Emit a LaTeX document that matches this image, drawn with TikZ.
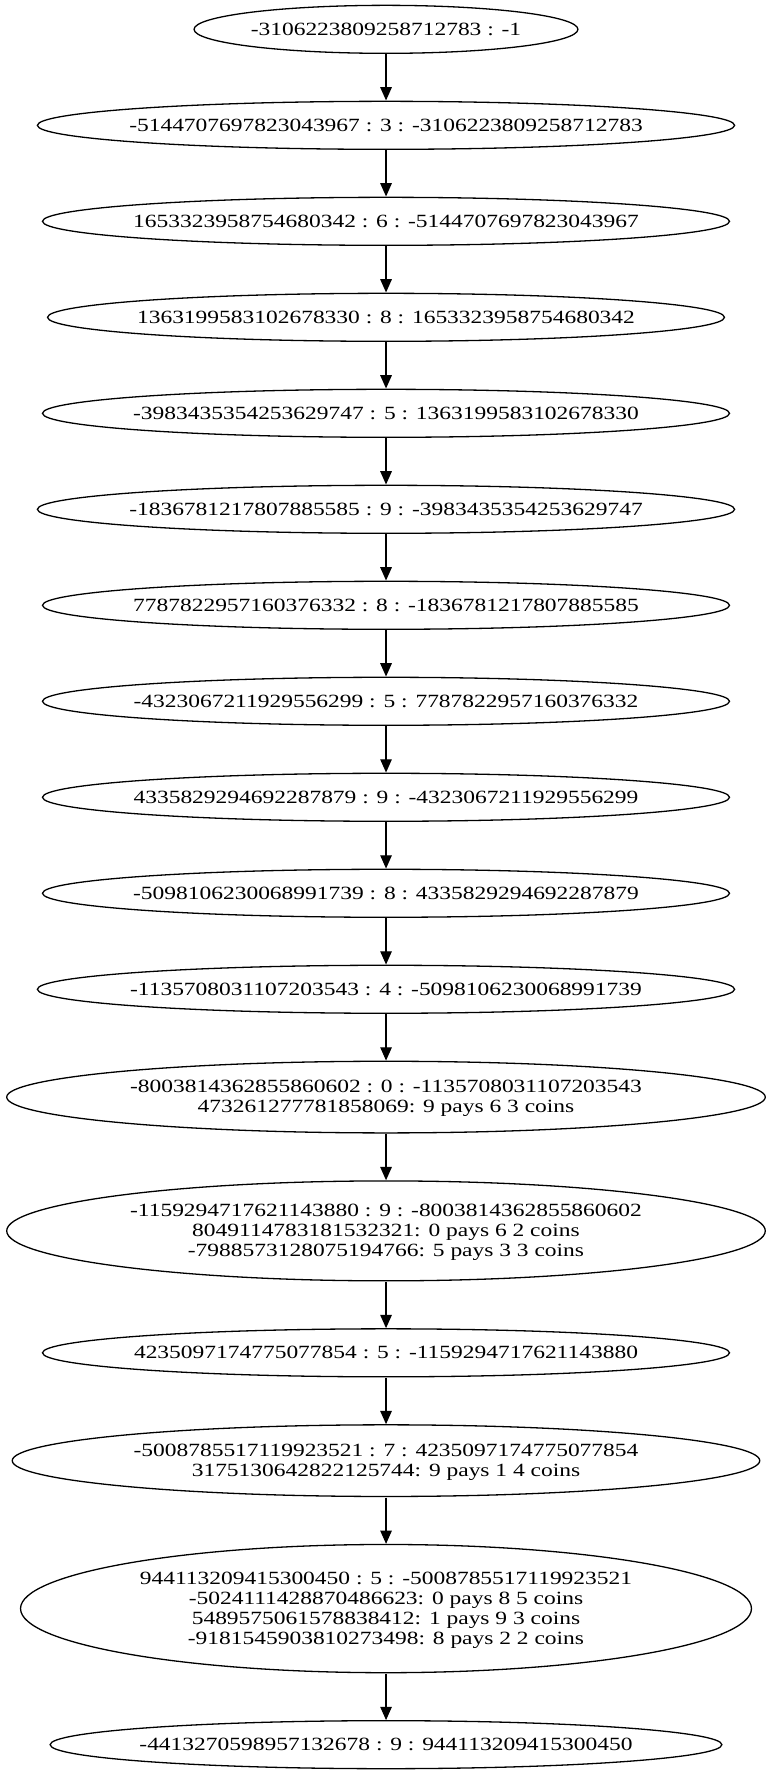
\documentclass[tikz,border=0pt]{standalone}
\usepackage{fontspec}
\setmainfont{Liberation Serif}
\usetikzlibrary{arrows.meta,shapes.geometric}
\newcommand\gvstrut{\vrule width 0pt height 11.8pt depth 3.2pt}
\newcommand\gvl[1]{{\renewcommand\arraystretch{0}\begin{tabular}{@{}c@{}}#1\end{tabular}}}
\tikzset{
  gvnode/.style={draw, ellipse, line width=1.3pt, inner xsep=-80pt, inner ysep=-20pt,
    font=\fontsize{14}{15}\selectfont},
  one/.style={gvnode, minimum height=36pt},
  arr/.style={line width=1.3pt, -{Triangle[length=13.3pt,width=11.5pt]}}
}
\begin{document}
\begin{tikzpicture}[x=1pt, y=1pt, xscale=1.67571, yscale=1.33323, transform shape]
\useasboundingbox (0,0) rectangle (460.7,-1330.6);
\def\cx{230.35}
\node[one, minimum width=229.1pt] (n1) at (\cx,-22) {\gvl{\gvstrut -3106223809258712783 : -1}};
\node[one, minimum width=416.1pt] (n2) at (\cx,-94) {\gvl{\gvstrut -5144707697823043967 : 3 : -3106223809258712783}};
\node[one, minimum width=410.0pt] (n3) at (\cx,-166) {\gvl{\gvstrut 1653323958754680342 : 6 : -5144707697823043967}};
\node[one, minimum width=404.0pt] (n4) at (\cx,-238) {\gvl{\gvstrut 1363199583102678330 : 8 : 1653323958754680342}};
\node[one, minimum width=410.0pt] (n5) at (\cx,-310) {\gvl{\gvstrut -3983435354253629747 : 5 : 1363199583102678330}};
\node[one, minimum width=416.1pt] (n6) at (\cx,-382) {\gvl{\gvstrut -1836781217807885585 : 9 : -3983435354253629747}};
\node[one, minimum width=410.0pt] (n7) at (\cx,-454) {\gvl{\gvstrut 7787822957160376332 : 8 : -1836781217807885585}};
\node[one, minimum width=410.0pt] (n8) at (\cx,-526) {\gvl{\gvstrut -4323067211929556299 : 5 : 7787822957160376332}};
\node[one, minimum width=410.0pt] (n9) at (\cx,-598) {\gvl{\gvstrut 4335829294692287879 : 9 : -4323067211929556299}};
\node[one, minimum width=410.0pt] (n10) at (\cx,-670) {\gvl{\gvstrut -5098106230068991739 : 8 : 4335829294692287879}};
\node[one, minimum width=416.1pt] (n11) at (\cx,-742) {\gvl{\gvstrut -1135708031107203543 : 4 : -5098106230068991739}};
\node[gvnode, minimum width=452.7pt, minimum height=53.74pt] (n12) at (\cx,-822.87) {\gvl{\gvstrut -8003814362855860602 : 0 : -1135708031107203543\\ \gvstrut 473261277781858069: 9 pays 6 3 coins}};
\node[gvnode, minimum width=452.7pt, minimum height=74.95pt] (n13) at (\cx,-923.22) {\gvl{\gvstrut -1159294717621143880 : 9 : -8003814362855860602\\ \gvstrut 8049114783181532321: 0 pays 6 2 coins\\ \gvstrut -7988573128075194766: 5 pays 3 3 coins}};
\node[one, minimum width=410.0pt] (n14) at (\cx,-1014.69) {\gvl{\gvstrut 4235097174775077854 : 5 : -1159294717621143880}};
\node[gvnode, minimum width=446.1pt, minimum height=53.74pt] (n15) at (\cx,-1095.56) {\gvl{\gvstrut -5008785517119923521 : 7 : 4235097174775077854\\ \gvstrut 3175130642822125744: 9 pays 1 4 coins}};
\node[gvnode, minimum width=436.2pt, minimum height=96.17pt] (n16) at (\cx,-1206.52) {\gvl{\gvstrut 944113209415300450 : 5 : -5008785517119923521\\ \gvstrut -5024111428870486623: 0 pays 8 5 coins\\ \gvstrut 5489575061578838412: 1 pays 9 3 coins\\ \gvstrut -9181545903810273498: 8 pays 2 2 coins}};
\node[one, minimum width=400.9pt] (n17) at (\cx,-1308.6) {\gvl{\gvstrut -4413270598957132678 : 9 : 944113209415300450}};
\foreach \a/\b in {n1/n2,n2/n3,n3/n4,n4/n5,n5/n6,n6/n7,n7/n8,n8/n9,n9/n10,n10/n11,n11/n12,n12/n13,n13/n14,n14/n15,n15/n16,n16/n17}
  \draw[arr] (\a.south) -- (\b.north);
\end{tikzpicture}
\end{document}
